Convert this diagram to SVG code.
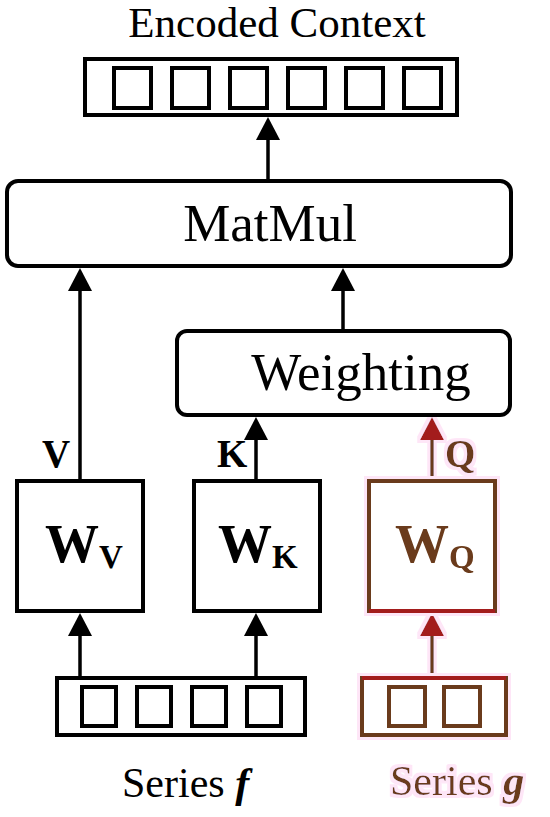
<svg xmlns="http://www.w3.org/2000/svg" width="550" height="817" viewBox="0 0 550 817">
  <style>
    .box { fill: #fff; stroke: #000; stroke-width: 4; }
    .sq { fill: none; stroke: #000; stroke-width: 4; }
    .gbox { fill: #fff; stroke: #6b3b1a; stroke-width: 4; }
    .gsq { fill: none; stroke: #6b3b1a; stroke-width: 4; }
    .t { font-family: "Liberation Serif", "Times New Roman", serif; fill: #000; }
    .b { font-weight: bold; }
    .brown { fill: #6b3b1a; }
    .conn { stroke: #000; stroke-width: 3.5; fill: none; marker-end: url(#ah); }
    .gconn { stroke: #6b3b1a; stroke-width: 3.5; fill: none; marker-end: url(#ahr); }
  </style>
  <defs>
    <marker id="ah" markerUnits="userSpaceOnUse" markerWidth="24" markerHeight="24" refX="15" refY="12" orient="auto">
      <path d="M0,0 L23,12 L0,24 z" fill="#000"/>
    </marker>
    <marker id="ahr" markerUnits="userSpaceOnUse" markerWidth="24" markerHeight="24" refX="15" refY="12" orient="auto">
      <path d="M0,0 L23,12 L0,24 z" fill="#a31c1c"/>
    </marker>
    <filter id="halo" filterUnits="userSpaceOnUse" x="0" y="0" width="550" height="817">
      <feMorphology in="SourceAlpha" operator="dilate" radius="3" result="d"/>
      <feFlood flood-color="#fee6f7" result="f"/>
      <feComposite in="f" in2="d" operator="in" result="h"/>
      <feMerge><feMergeNode in="h"/><feMergeNode in="SourceGraphic"/></feMerge>
    </filter>
  </defs>

  <g id="connectors">
    <line class="conn" x1="268" y1="181" x2="268" y2="125"/>
    <line class="conn" x1="343" y1="331" x2="343" y2="276"/>
    <line class="conn" x1="80" y1="481" x2="80" y2="276"/>
    <line class="conn" x1="256" y1="481" x2="256" y2="425"/>
    <line class="conn" x1="80" y1="678" x2="80" y2="621"/>
    <line class="conn" x1="256" y1="678" x2="256" y2="621"/>
    <g filter="url(#halo)">
      <line class="gconn" x1="432" y1="481" x2="432" y2="425"/>
      <line class="gconn" x1="432" y1="678" x2="432" y2="621"/>
    </g>
  </g>

  <g id="encoded-context">
    <text class="t" x="277" y="37" font-size="43" text-anchor="middle">Encoded Context</text>
    <rect class="box" x="85" y="59" width="372" height="56"/>
    <rect class="sq" x="114" y="68" width="37" height="40"/>
    <rect class="sq" x="172" y="68" width="37" height="40"/>
    <rect class="sq" x="230" y="68" width="37" height="40"/>
    <rect class="sq" x="288" y="68" width="37" height="40"/>
    <rect class="sq" x="346" y="68" width="37" height="40"/>
    <rect class="sq" x="404" y="68" width="37" height="40"/>
  </g>

  <g id="matmul">
    <rect class="box" x="7" y="181" width="504" height="85" rx="11"/>
    <text class="t" x="270" y="241" font-size="53" text-anchor="middle">MatMul</text>
  </g>

  <g id="weighting">
    <rect class="box" x="177" y="331" width="333" height="84" rx="10"/>
    <text class="t" x="361" y="390" font-size="53" text-anchor="middle">Weighting</text>
  </g>

  <g id="label-v">
    <text class="t b" x="42" y="467" font-size="39">V</text>
  </g>
  <g id="label-k">
    <text class="t b" x="217" y="467" font-size="39">K</text>
  </g>

  <g id="wv">
    <rect class="box" x="17" y="481" width="126" height="130"/>
    <text class="t b" x="45" y="562" font-size="54">W<tspan font-size="33" dy="6">V</tspan></text>
  </g>
  <g id="wk">
    <rect class="box" x="194" y="481" width="126" height="130"/>
    <text class="t b" x="218" y="562" font-size="54">W<tspan font-size="33" dy="6">K</tspan></text>
  </g>

  <g id="wq" filter="url(#halo)">
    <rect class="gbox" x="369" y="481" width="126" height="130"/>
    <line x1="369" y1="611" x2="495" y2="611" stroke="#a31c1c" stroke-width="4"/>
    <text class="t b brown" x="395" y="562" font-size="54">W<tspan font-size="33" dy="6">Q</tspan></text>
  </g>
  <g id="label-q" filter="url(#halo)">
    <text class="t b brown" x="445" y="467" font-size="39">Q</text>
  </g>

  <g id="series-f">
    <rect class="box" x="57" y="678" width="248" height="57"/>
    <rect class="sq" x="82" y="687" width="34" height="39"/>
    <rect class="sq" x="137" y="687" width="34" height="39"/>
    <rect class="sq" x="192" y="687" width="34" height="39"/>
    <rect class="sq" x="247" y="687" width="34" height="39"/>
    <text class="t" x="122" y="797" font-size="42">Series <tspan font-weight="bold" font-style="italic">f</tspan></text>
  </g>

  <g id="series-g" filter="url(#halo)">
    <rect class="gbox" x="362" y="678" width="144" height="57"/>
    <line x1="362" y1="678" x2="506" y2="678" stroke="#a31c1c" stroke-width="4"/>
    <rect class="gsq" x="389" y="687" width="36" height="39"/>
    <rect class="gsq" x="444" y="687" width="36" height="39"/>
    <text class="t brown" x="390" y="795" font-size="42">Series <tspan font-weight="bold" font-style="italic">g</tspan></text>
  </g>
</svg>
